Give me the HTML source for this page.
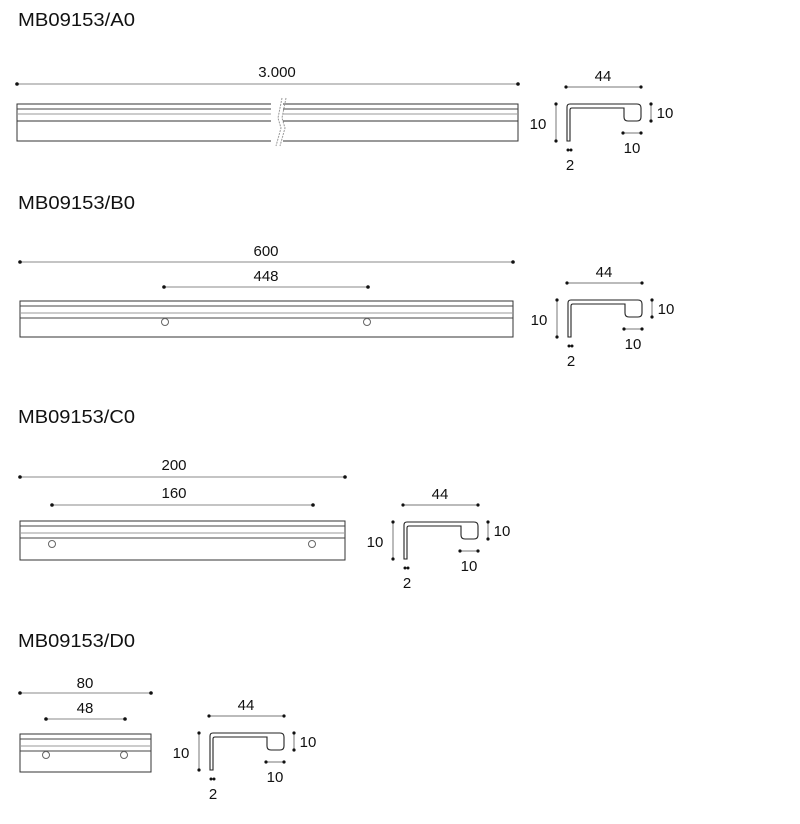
<!DOCTYPE html>
<html><head><style>body{margin:0;background:#fff}svg{display:block}text{font-family:"Liberation Sans",sans-serif;fill:#111}</style></head>
<body>
<svg width="800" height="824" viewBox="0 0 800 824" xmlns="http://www.w3.org/2000/svg">
<defs>
<g id="prof">
 <path d="M0,37 V3 Q0,0 3,0 H70 Q74,0 74,4 V13 Q74,17 70,17 H61 Q57,17 57,13 V4 H5 Q3,4 3,6 V37 Z" fill="none" stroke="#222" stroke-width="1.1"/>
 <line x1="-1" y1="-17" x2="74" y2="-17" stroke="#777" stroke-width="1"/>
 <circle cx="-1" cy="-17" r="1.6" fill="#111"/><circle cx="74" cy="-17" r="1.6" fill="#111"/>
 <text x="36" y="-23" font-size="15" text-anchor="middle">44</text>
 <line x1="-11" y1="0" x2="-11" y2="37" stroke="#777"/>
 <circle cx="-11" cy="0" r="1.6" fill="#111"/><circle cx="-11" cy="37" r="1.6" fill="#111"/>
 <text x="-29" y="25" font-size="15" text-anchor="middle">10</text>
 <line x1="84" y1="0" x2="84" y2="17" stroke="#777"/>
 <circle cx="84" cy="0" r="1.6" fill="#111"/><circle cx="84" cy="17" r="1.6" fill="#111"/>
 <text x="98" y="14" font-size="15" text-anchor="middle">10</text>
 <line x1="56" y1="29" x2="74" y2="29" stroke="#777"/>
 <circle cx="56" cy="29" r="1.6" fill="#111"/><circle cx="74" cy="29" r="1.6" fill="#111"/>
 <text x="65" y="49" font-size="15" text-anchor="middle">10</text>
 <circle cx="1" cy="46" r="1.5" fill="#111"/><circle cx="4" cy="46" r="1.5" fill="#111"/>
 <text x="3" y="66" font-size="15" text-anchor="middle">2</text>
</g>
</defs>
<g font-size="18">
<text x="18" y="26" textLength="117" lengthAdjust="spacingAndGlyphs">MB09153/A0</text>
<text x="18" y="209" textLength="117" lengthAdjust="spacingAndGlyphs">MB09153/B0</text>
<text x="18" y="423" textLength="117" lengthAdjust="spacingAndGlyphs">MB09153/C0</text>
<text x="18" y="647" textLength="117" lengthAdjust="spacingAndGlyphs">MB09153/D0</text>
</g>
<g stroke-width="1" fill="none">
<!-- A -->
<line x1="17" y1="84" x2="518" y2="84" stroke="#888"/>
<rect x="17" y="104" width="501" height="37" stroke="#333"/>
<line x1="17" y1="109" x2="518" y2="109" stroke="#444"/>
<line x1="17" y1="114" x2="518" y2="114" stroke="#999"/>
<line x1="17" y1="121" x2="518" y2="121" stroke="#333"/>
<rect x="271" y="98" width="12" height="48" fill="#fff" stroke="none"/>
<path d="M282,98 L278,118 L281,128 L276,146 M286,98 L282,118 L285,128 L280,146" stroke="#999" stroke-dasharray="2,1"/>
<!-- B -->
<line x1="20" y1="262" x2="513" y2="262" stroke="#888"/>
<line x1="164" y1="287" x2="368" y2="287" stroke="#888"/>
<rect x="20" y="301" width="493" height="36" stroke="#333"/>
<line x1="20" y1="306" x2="513" y2="306" stroke="#444"/>
<line x1="20" y1="313" x2="513" y2="313" stroke="#999"/>
<line x1="20" y1="318" x2="513" y2="318" stroke="#444"/>
<circle cx="165" cy="322" r="3.5" stroke="#666"/><circle cx="367" cy="322" r="3.5" stroke="#666"/>
<!-- C -->
<line x1="20" y1="477" x2="345" y2="477" stroke="#888"/>
<line x1="52" y1="505" x2="313" y2="505" stroke="#888"/>
<rect x="20" y="521" width="325" height="39" stroke="#333"/>
<line x1="20" y1="526" x2="345" y2="526" stroke="#444"/>
<line x1="20" y1="533" x2="345" y2="533" stroke="#999"/>
<line x1="20" y1="538" x2="345" y2="538" stroke="#444"/>
<circle cx="52" cy="544" r="3.5" stroke="#666"/><circle cx="312" cy="544" r="3.5" stroke="#666"/>
<!-- D -->
<line x1="20" y1="693" x2="151" y2="693" stroke="#888"/>
<line x1="46" y1="719" x2="125" y2="719" stroke="#888"/>
<rect x="20" y="734" width="131" height="38" stroke="#333"/>
<line x1="20" y1="739" x2="151" y2="739" stroke="#444"/>
<line x1="20" y1="746" x2="151" y2="746" stroke="#999"/>
<line x1="20" y1="751" x2="151" y2="751" stroke="#444"/>
<circle cx="46" cy="755" r="3.5" stroke="#666"/><circle cx="124" cy="755" r="3.5" stroke="#666"/>
</g>
<g fill="#111">
<circle cx="17" cy="84" r="1.8"/><circle cx="518" cy="84" r="1.8"/>
<circle cx="20" cy="262" r="1.8"/><circle cx="513" cy="262" r="1.8"/>
<circle cx="164" cy="287" r="1.8"/><circle cx="368" cy="287" r="1.8"/>
<circle cx="20" cy="477" r="1.8"/><circle cx="345" cy="477" r="1.8"/>
<circle cx="52" cy="505" r="1.8"/><circle cx="313" cy="505" r="1.8"/>
<circle cx="20" cy="693" r="1.8"/><circle cx="151" cy="693" r="1.8"/>
<circle cx="46" cy="719" r="1.8"/><circle cx="125" cy="719" r="1.8"/>
</g>
<g font-size="15" text-anchor="middle">
<text x="277" y="77">3.000</text>
<text x="266" y="256">600</text>
<text x="266" y="281">448</text>
<text x="174" y="470">200</text>
<text x="174" y="498">160</text>
<text x="85" y="688">80</text>
<text x="85" y="713">48</text>
</g>
<use href="#prof" transform="translate(567,104)"/>
<use href="#prof" transform="translate(568,300)"/>
<use href="#prof" transform="translate(404,522)"/>
<use href="#prof" transform="translate(210,733)"/>
</svg>
</body></html>
